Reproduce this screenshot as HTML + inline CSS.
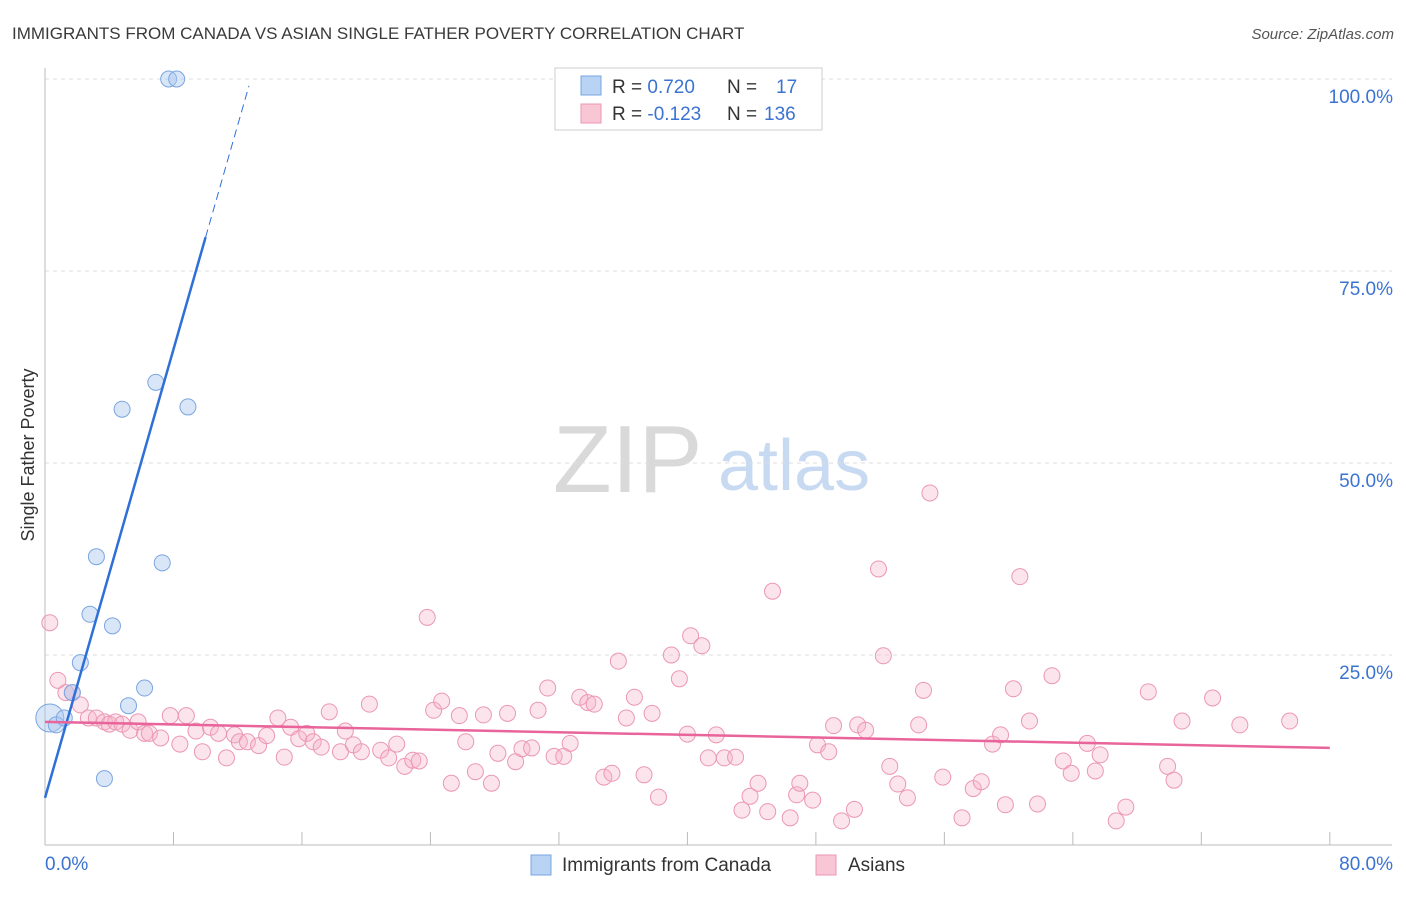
<!DOCTYPE html>
<html><head><meta charset="utf-8"><style>
body{margin:0;background:#fff;font-family:"Liberation Sans",sans-serif}
svg text{font-family:"Liberation Sans",sans-serif}
</style></head><body>
<svg id="c" width="1406" height="892" xmlns="http://www.w3.org/2000/svg">
<text x="12" y="39" font-size="17" fill="#3a3a3a">IMMIGRANTS FROM CANADA VS ASIAN SINGLE FATHER POVERTY CORRELATION CHART</text>
<text x="1394" y="39" font-size="15" fill="#555" font-style="italic" text-anchor="end">Source: ZipAtlas.com</text>
<text x="34" y="455" font-size="18" fill="#333" transform="rotate(-90 34 455)" text-anchor="middle">Single Father Poverty</text>
<g><text x="553" y="492" font-size="96" font-family="Liberation Serif" fill="#d9d9d9">ZIP</text><text x="718" y="490" font-size="72" fill="#c8daf2">atlas</text></g>
<g id="grid"></g><g id="axes"></g><g id="pts"></g><g id="lines"></g>
<g>
<rect x="555" y="68" width="267" height="62" fill="#fff" stroke="#ccc"/>
<rect x="581" y="76" width="20" height="19" fill="#b9d3f5" stroke="#7aa6e0"/>
<rect x="581" y="104" width="20" height="19" fill="#f9c6d6" stroke="#eb97b3"/>
<text x="612" y="93" font-size="19" fill="#333">R = <tspan fill="#3b73d1">0.720</tspan><tspan x="727">N = </tspan><tspan x="776" fill="#3b73d1">17</tspan></text>
<text x="612" y="120" font-size="19" fill="#333">R = <tspan fill="#3b73d1">-0.123</tspan><tspan x="727">N = </tspan><tspan x="764" fill="#3b73d1">136</tspan></text>
</g>
<g>
<rect x="531" y="855" width="20" height="20" fill="#b9d3f5" stroke="#7aa6e0"/>
<text x="562" y="871" font-size="19" fill="#333">Immigrants from Canada</text>
<rect x="816" y="855" width="20" height="20" fill="#f9c6d6" stroke="#eb97b3"/>
<text x="848" y="871" font-size="19" fill="#333">Asians</text>
</g>
</svg>
<script>
const blueX=[0.3,0.7,1.2,1.7,2.2,2.8,3.2,3.7,4.2,4.8,5.2,6.2,6.9,7.3,7.7,8.2,8.9];
const blueY=[16.8,15.9,16.8,20.1,24.0,30.3,37.8,8.9,28.8,57.0,18.4,20.7,60.5,37.0,100,100,57.3];
const pinkX=[0.3,0.8,1.3,1.7,2.2,2.7,3.2,3.7,4.0,4.4,4.8,5.3,5.8,6.2,6.5,7.2,7.8,8.4,8.8,9.4,9.8,10.3,10.8,11.3,11.8,12.1,12.6,13.3,13.8,14.5,14.9,15.3,15.8,16.3,16.7,17.2,17.7,18.4,18.7,19.2,19.7,20.2,20.9,21.4,21.9,22.4,22.9,23.3,23.8,24.2,24.7,25.3,25.8,26.2,26.8,27.3,27.8,28.2,28.8,29.3,29.7,30.3,30.7,31.3,31.7,32.3,32.7,33.3,33.8,34.2,34.8,35.3,35.7,36.2,36.7,37.3,37.8,38.2,39.0,39.5,40.0,40.2,40.9,41.3,41.8,42.3,43.0,43.4,43.9,44.4,45.0,45.3,46.4,46.8,47.0,47.8,48.1,48.8,49.1,49.6,50.4,50.6,51.1,51.9,52.2,52.6,53.1,53.7,54.4,54.7,55.1,55.9,57.1,57.8,58.3,59.0,59.5,59.8,60.3,60.7,61.3,61.8,62.7,63.4,63.9,64.9,65.4,65.7,66.7,67.3,68.7,69.9,70.3,70.8,72.7,74.4,77.5];
const pinkY=[29.2,21.7,20.1,20.1,18.5,16.8,16.8,16.3,16.0,16.3,16.0,15.2,16.3,14.8,14.8,14.2,17.1,13.4,17.1,15.1,12.4,15.6,14.8,11.6,14.6,13.7,13.7,13.2,14.5,16.8,11.7,15.6,14.1,14.8,13.7,13.0,17.6,12.4,15.1,13.3,12.4,18.6,12.6,11.6,13.4,10.5,11.3,11.2,29.9,17.8,19.0,8.3,17.1,13.7,9.8,17.2,8.3,12.2,17.4,11.1,12.8,12.9,17.8,20.7,11.8,11.8,13.5,19.5,18.8,18.6,9.1,9.6,24.2,16.8,19.5,9.4,17.4,6.5,25.0,21.9,14.7,27.5,26.2,11.6,14.6,11.6,11.7,4.8,6.6,8.3,4.6,33.3,3.8,6.8,8.3,6.1,13.3,12.4,15.8,3.4,4.9,15.9,15.2,36.2,24.9,10.5,8.2,6.4,15.9,20.4,46.1,9.1,3.8,7.6,8.5,13.4,14.6,5.5,20.6,35.2,16.4,5.6,22.3,11.2,9.6,13.5,9.9,12.0,3.4,5.2,20.2,10.5,8.7,16.4,19.4,15.9,16.4];
const yTicks=[25,50,75,100];
const xTicks=[0,8,16,24,32,40,48,56,64,72,80];
const blueTrend=[6.4,7.3]; // intercept, slope
const pinkTrend=[16.3,-0.0425];
const NS="http://www.w3.org/2000/svg";
const sx=v=>45+v*16.06, sy=v=>847-v*7.68;
function mk(parent,tag,attrs){const e=document.createElementNS(NS,tag);for(const k in attrs)e.setAttribute(k,attrs[k]);document.getElementById(parent).appendChild(e);return e;}
yTicks.forEach(t=>{
 const l=mk('grid','line',{x1:45,x2:1392,y1:sy(t),y2:sy(t),stroke:'#ddd','stroke-dasharray':'4 4'});
 
 
 const tx=mk('grid','text',{x:1393,y:sy(t)+24,'font-size':19,fill:'#3b73d1','text-anchor':'end'});
 tx.textContent=t.toFixed(1)+'%';
 
 
});
const ax=mk('axes','line',{x1:45,x2:1392,y1:845,y2:845,stroke:'#bbb'});


const ay=mk('axes','line',{x1:45,x2:45,y1:68,y2:845,stroke:'#bbb'});


xTicks.forEach(t=>{const l=mk('axes','line',{x1:sx(t),x2:sx(t),y1:832,y2:845,stroke:'#bbb'});
 
 });
[[0,'0.0%',45,'start'],[80,'80.0%',1393,'end']].forEach(a=>{const t=mk('axes','text',{x:a[2],y:870,'font-size':19,fill:'#3b73d1','text-anchor':a[3]});t.textContent=a[1];
 
 });
pinkX.forEach((x,i)=>{const c=mk('pts','circle',{cx:sx(x),cy:sy(pinkY[i]),r:8,fill:'rgba(246,177,200,0.35)',stroke:'#eb97b3','stroke-width':1});
 
 });
blueX.forEach((x,i)=>{const c=mk('pts','circle',{cx:sx(x),cy:sy(blueY[i]),r:i==0?14:8,fill:'rgba(170,200,240,0.45)',stroke:'#7aa6e0','stroke-width':1});
 
 });
const bl=mk('lines','line',{x1:sx(0),y1:sy(blueTrend[0]),x2:sx(10),y2:sy(blueTrend[0]+blueTrend[1]*10),stroke:'#2f6fd8','stroke-width':2.5});


const bd=mk('lines','line',{x1:sx(10),y1:sy(blueTrend[0]+blueTrend[1]*10),x2:sx(12.7),y2:sy(blueTrend[0]+blueTrend[1]*12.7),stroke:'#2f6fd8','stroke-width':1,'stroke-dasharray':'8 5'});


const pl=mk('lines','line',{x1:sx(0),y1:sy(pinkTrend[0]),x2:sx(80),y2:sy(pinkTrend[0]+pinkTrend[1]*80),stroke:'#e8649a','stroke-width':2.5});


</script>
</body></html>
